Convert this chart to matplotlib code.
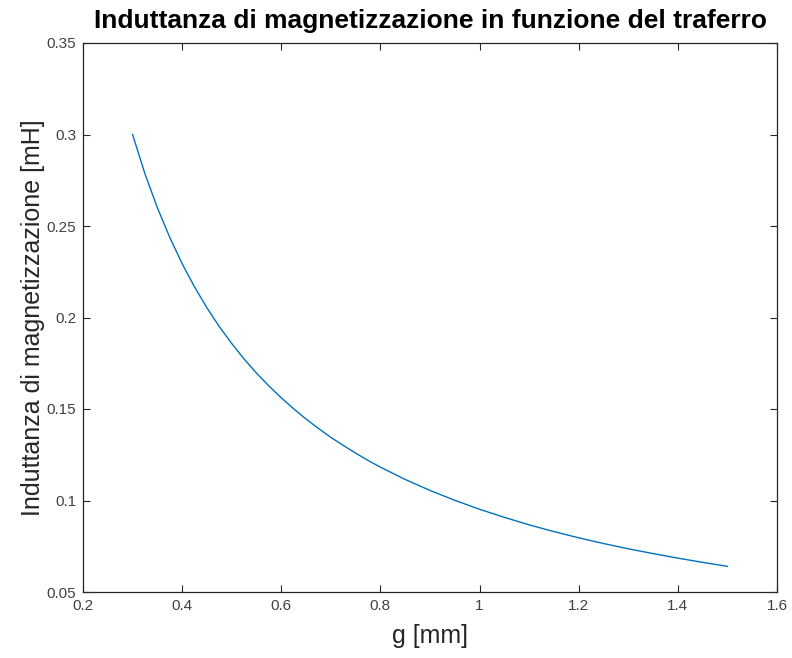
import matplotlib
matplotlib.use("Agg")
import matplotlib.pyplot as plt

# traferro g [mm] e induttanza di magnetizzazione L [mH]
g_mm = [0.300, 0.325, 0.350, 0.375, 0.400, 0.425, 0.450, 0.475, 0.500, 0.525,
        0.550, 0.575, 0.600, 0.625, 0.650, 0.675, 0.700, 0.725, 0.750, 0.775,
        0.80, 0.85, 0.90, 0.95, 1.00, 1.05, 1.10, 1.15, 1.20, 1.25, 1.30, 1.35,
        1.40, 1.45, 1.50]
L_mH = [0.3000, 0.2785, 0.2600, 0.2438, 0.2294, 0.2167, 0.2053, 0.1950, 0.1858,
        0.1773, 0.1696, 0.1626, 0.1561, 0.1501, 0.1445, 0.1394, 0.1345, 0.1301,
        0.1259, 0.1219, 0.1182, 0.1115, 0.1055, 0.1001, 0.0952, 0.0908, 0.0867,
        0.0830, 0.0796, 0.0765, 0.0736, 0.0710, 0.0685, 0.0662, 0.0640]

xticks = [0.2, 0.4, 0.6, 0.8, 1, 1.2, 1.4, 1.6]
yticks = [0.05, 0.1, 0.15, 0.2, 0.25, 0.3, 0.35]

plt.rcParams['font.family'] = ['Liberation Sans', 'DejaVu Sans']
axcol = '#262626'

fig = plt.figure(figsize=(7.92, 6.58), dpi=100)
ax = fig.add_axes([83/792, 1 - 592/658, (777 - 83)/792, (592 - 43)/658])

ax.plot(g_mm, L_mH, color='#0072BD', linewidth=1.0)

ax.set_xlim(0.2, 1.6)
ax.set_ylim(0.05, 0.35)
ax.set_xticks(xticks)
ax.set_xticklabels([f'{v:g}' for v in xticks])
ax.set_yticks(yticks)
ax.set_yticklabels([f'{v:g}' for v in yticks])

ax.tick_params(direction='in', top=True, right=True, length=5, width=0.8,
               colors=axcol, labelsize=11, pad=5)
ax.tick_params(labelcolor='#404040')
for s in ax.spines.values():
    s.set_color(axcol)
    s.set_linewidth(0.9)

ax.set_title('Induttanza di magnetizzazione in funzione del traferro',
             fontsize=19, fontweight='bold', pad=11)
ax.set_xlabel('g [mm]', fontsize=18, color=axcol, labelpad=8)
ax.set_ylabel('Induttanza di magnetizzazione [mH]', fontsize=18, color=axcol, labelpad=1)

fig.savefig('out.png', dpi=100)
